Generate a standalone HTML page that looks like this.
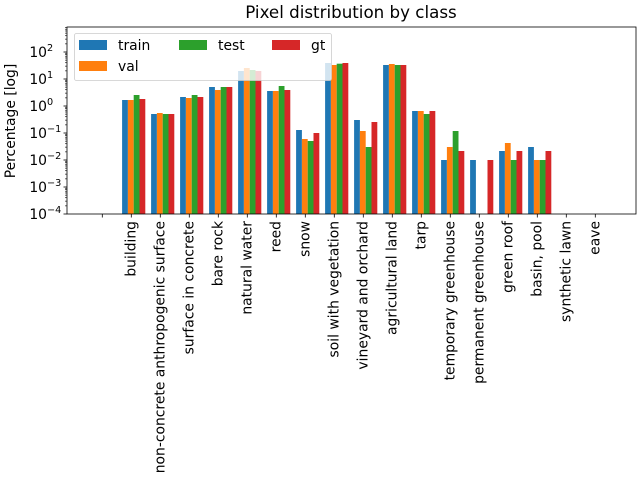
<!DOCTYPE html>
<html><head><meta charset="utf-8"><style>
html,body{margin:0;padding:0;background:#fff}
svg{display:block;font-family:"DejaVu Sans","Liberation Sans",sans-serif}
</style></head><body>
<svg id="s" width="640" height="480" xmlns="http://www.w3.org/2000/svg">
<text x="351" y="18" font-size="16.7" text-anchor="middle">Pixel distribution by class</text>
<text transform="translate(15,121) rotate(-90)" font-size="13.9" text-anchor="middle">Percentage [log]</text>
<g id="bars"></g>
<g id="ticks" stroke="#000" stroke-width="0.8"></g>
<g id="labels" font-size="13.9"></g>
<rect x="67" y="27" width="569" height="187" fill="none" stroke="#000" stroke-width="0.8"/>
<g>
<rect x="74.5" y="33.5" width="257" height="47" rx="2" fill="#fff" fill-opacity="0.8" stroke="#ccc" stroke-width="0.8"/>
<rect x="79" y="40" width="28" height="10" fill="#1f77b4"/><text x="118" y="50" font-size="13.9">train</text>
<rect x="79" y="61" width="28" height="10" fill="#ff7f0e"/><text x="118" y="71" font-size="13.9">val</text>
<rect x="179" y="40" width="28" height="10" fill="#2ca02c"/><text x="218" y="50" font-size="13.9">test</text>
<rect x="272" y="40" width="28" height="10" fill="#d62728"/><text x="311" y="50" font-size="13.9">gt</text>
</g>
</svg>
<script>
var NS="http://www.w3.org/2000/svg";
function el(p,t,a,txt){var e=document.createElementNS(NS,t);for(var k in a)e.setAttribute(k,a[k]);if(txt)e.textContent=txt;document.getElementById(p).appendChild(e);return e;}
var names=["","building","non-concrete anthropogenic surface","surface in concrete","bare rock","natural water","reed","snow","soil with vegetation","vineyard and orchard","agricultural land","tarp","temporary greenhouse","permanent greenhouse","green roof","basin, pool","synthetic lawn","eave"];
var tops=[null,[100,100,95,99],[114,113,114,114],[97,98,95,97],[87,90,87,87],[71,68,70,71],[91,91,86,90],[130,139,141,133],[63,65,63.7,63],[120,131,147,122],[65,64,65,65],[111,111,114,111],[160,147,131,151],[160,null,null,160],[151,143,160,151],[147,160,160,151],null,null];
var cols=["#1f77b4","#ff7f0e","#2ca02c","#d62728"];
for(var i=0;i<18;i++){
 var tx=102.3+29*i;
 el("ticks","line",{x1:tx,y1:214,x2:tx,y2:217.5});
 if(names[i])el("labels","text",{transform:"translate("+(tx+4)+",221) rotate(-90)","text-anchor":"end"},names[i]);
 if(tops[i])for(var k=0;k<4;k++){var y=tops[i][k];if(y==null)continue;
  el("bars","rect",{x:tx-9.2+k*5.8,y:y,width:5.8,height:214-y,fill:cols[k]});}
}
var sups=["−4","−3","−2","−1","0","1","2"];
for(var d=0;d<7;d++){
 var y=214-27*d;
 el("ticks","line",{x1:63.5,y1:y,x2:67,y2:y});
 var t=el("labels","text",{x:47,y:y+5,"text-anchor":"end"},"10");
 el("labels","text",{x:47,y:y-1,"font-size":"9.7"},sups[d]);
 for(var m=2;m<10;m++){var yy=y-27*Math.log10(m);if(yy>27)el("ticks","line",{x1:65,y1:yy,x2:67,y2:yy,"stroke-width":"0.6"});}
}
</script>
</body></html>
